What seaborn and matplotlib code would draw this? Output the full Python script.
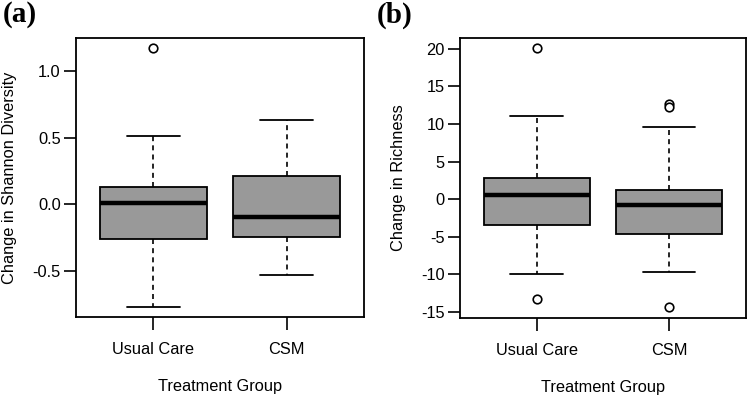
import numpy as np
import pandas as pd
import matplotlib
matplotlib.use("Agg")
import matplotlib.pyplot as plt
import seaborn as sns

groups = ["Usual Care", "CSM"]

# (a) Change in Shannon Diversity - five number summaries
shannon_lo_whisker = [-0.77, -0.53]
shannon_q1 = [-0.26, -0.25]
shannon_median = [0.005, -0.095]
shannon_q3 = [0.125, 0.21]
shannon_hi_whisker = [0.515, 0.635]
shannon_out_group = ["Usual Care"]
shannon_out_value = [1.175]
shannon_ticks = [-0.5, 0.0, 0.5, 1.0]
shannon_ticklabels = ["-0.5", "0.0", "0.5", "1.0"]

# (b) Change in Richness
rich_lo_whisker = [-10.05, -9.75]
rich_q1 = [-3.5, -4.7]
rich_median = [0.53, -0.8]
rich_q3 = [2.75, 1.25]
rich_hi_whisker = [11.0, 9.55]
rich_out_group = ["Usual Care", "Usual Care", "CSM", "CSM", "CSM"]
rich_out_value = [20.1, -13.3, 12.65, 12.25, -14.4]
rich_ticks = [-15, -10, -5, 0, 5, 10, 15, 20]
rich_ticklabels = ["-15", "-10", "-5", "0", "5", "10", "15", "20"]

sns.set_style("ticks")
plt.rcParams["font.family"] = ["Liberation Sans", "DejaVu Sans"]
plt.rcParams["text.color"] = "black"
plt.rcParams["axes.labelcolor"] = "black"
plt.rcParams["xtick.color"] = "black"
plt.rcParams["ytick.color"] = "black"

FS = 11.8


def draw_panel(ax, lo, q1, med, q3, hi, out_g, out_v, ylabel, yticks, yticklabels, ylim):
    stats = []
    for i, g in enumerate(groups):
        stats.append(dict(label=g, whislo=lo[i], q1=q1[i], med=med[i],
                          q3=q3[i], whishi=hi[i], fliers=[]))
    ax.bxp(stats, positions=range(len(groups)), widths=0.8, patch_artist=True,
           showfliers=False,
           boxprops=dict(facecolor="#999999", edgecolor="black", linewidth=1.3),
           medianprops=dict(color="black", linewidth=3.2, solid_capstyle="butt"),
           whiskerprops=dict(color="black", linewidth=1.2, linestyle=(0, (3, 2.5))),
           capprops=dict(color="black", linewidth=1.3), capwidths=0.4)
    df = pd.DataFrame({"group": out_g, "value": out_v})
    df["pos"] = df["group"].map({g: i for i, g in enumerate(groups)})
    sns.scatterplot(data=df, x="pos", y="value", ax=ax, marker="o", s=38,
                    facecolor="white", edgecolor="black", linewidth=1.2,
                    zorder=5, legend=False)
    ax.set_xlim(-0.58, 1.58)
    ax.set_ylim(*ylim)
    ax.set_xticks(range(len(groups)))
    ax.set_xticklabels(groups, fontsize=FS)
    ax.set_yticks(yticks)
    ax.set_yticklabels(yticklabels, fontsize=FS)
    ax.tick_params(axis="both", length=9, width=1.2, color="black", pad=2)
    ax.tick_params(axis="x", pad=9)
    ax.set_xlabel("Treatment Group", fontsize=FS, labelpad=16)
    ax.set_ylabel(ylabel, fontsize=FS, labelpad=11)
    for s in ax.spines.values():
        s.set_linewidth(1.3)
        s.set_color("black")


fig = plt.figure(figsize=(7.5, 3.97), dpi=100)
ax1 = fig.add_axes([0.1013, 0.2015, 0.384, 0.7028])
ax2 = fig.add_axes([0.6133, 0.199, 0.381, 0.7053])

draw_panel(ax1, shannon_lo_whisker, shannon_q1, shannon_median, shannon_q3,
           shannon_hi_whisker, shannon_out_group, shannon_out_value,
           "Change in Shannon Diversity", shannon_ticks, shannon_ticklabels,
           (-0.848, 1.248))
draw_panel(ax2, rich_lo_whisker, rich_q1, rich_median, rich_q3,
           rich_hi_whisker, rich_out_group, rich_out_value,
           "Change in Richness", rich_ticks, rich_ticklabels,
           (-15.85, 21.46))

for x, tag in [(0.003, "(a)"), (0.503, "(b)")]:
    fig.text(x, 0.997, tag, fontsize=21, fontweight="bold",
             family="Liberation Serif", ha="left", va="top")

fig.savefig("out.png", dpi=100)
